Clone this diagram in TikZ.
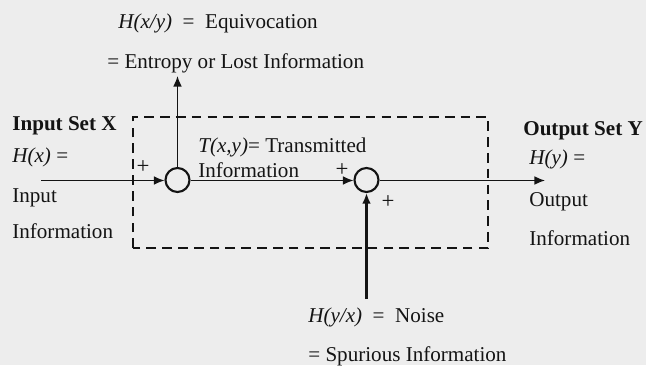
\documentclass[tikz,border=0pt]{standalone}
\usepackage{fontspec}
\setmainfont{Liberation Serif}
\usetikzlibrary{arrows.meta,positioning}
\definecolor{Paper}{HTML}{EDEDED}
\definecolor{Ink}{HTML}{141414}
\tikzset{
  lbl/.style={font=\fontsize{12}{14}\selectfont,text=Ink,anchor=base west,inner sep=0pt},
  sign/.style={font=\fontsize{13}{15}\selectfont,text=Ink,inner sep=0pt},
  junction/.style={circle,draw=Ink,line width=1.2pt,minimum size=0.48cm,inner sep=0pt},
  flow/.style={Ink,line width=0.8pt,-{Latex[length=6pt,width=5pt]}}
}

\begin{document}
\begin{tikzpicture}
      \fill[Paper] (0,0) rectangle (12.92,7.30);
      \draw[Ink,line width=1.4pt,dash pattern=on 5.5pt off 3.5pt] (2.66,2.34) rectangle (9.76,4.96);
      \node[junction] (sum1) at (3.55,3.70) {};
      \node[junction] (sum2) at (7.33,3.70) {};
      \coordinate (src) at (0.82,3.69);
      \coordinate (sink) at (10.90,3.69);
      \coordinate (lost) at (3.55,5.78);
      \coordinate (noise) at (7.33,1.32);
      \draw[flow] (src) -- (src -| sum1.west);
      \draw[flow] (sum1.east |- src) -- (src -| sum2.west);
      \draw[flow] (sum2.east |- src) -- (sink);
      \draw[flow] (sum1.north) -- (lost);
      \draw[flow,line width=1.6pt] (noise) -- (sum2.south);
      % labels
      \node[lbl] (equiv) at (2.36,6.74) {\textit{H(x/y)}\ \ =\ \ Equivocation};
      \node[lbl] (entropy) at (2.14,5.94) {= Entropy or Lost Information};
      \node[lbl,font=\fontsize{12}{14}\selectfont\bfseries] (inset) at (0.24,4.70) {Input Set X};
      \node[lbl] (hx) at (0.24,4.06) {\textit{H(x)} =};
      \node[lbl] (inp) at (0.24,3.26) {Input};
      \node[lbl] (inpinfo) at (0.24,2.54) {Information};
      \node[lbl] (trans) at (3.96,4.26) {\textit{T(x,y)}= Transmitted};
      \node[lbl] (transinfo) at (3.96,3.76) {Information};
      \node[lbl,font=\fontsize{12}{14}\selectfont\bfseries] (outset) at (10.46,4.60) {Output Set Y};
      \node[lbl] (hy) at (10.58,4.02) {\textit{H(y)} =};
      \node[lbl] (outp) at (10.58,3.18) {Output};
      \node[lbl] (outinfo) at (10.58,2.40) {Information};
      \node[lbl] (noisetxt) at (6.16,0.86) {\textit{H(y/x)}\ \ =\ \ Noise};
      \node[lbl] (spur) at (6.16,0.08) {= Spurious Information};
      \node[sign] (plusa) at (2.86,3.96) {+};
      \node[sign] (plusb) at (6.84,3.90) {+};
      \node[sign] (plusc) at (7.76,3.26) {+};
\end{tikzpicture}
\end{document}
